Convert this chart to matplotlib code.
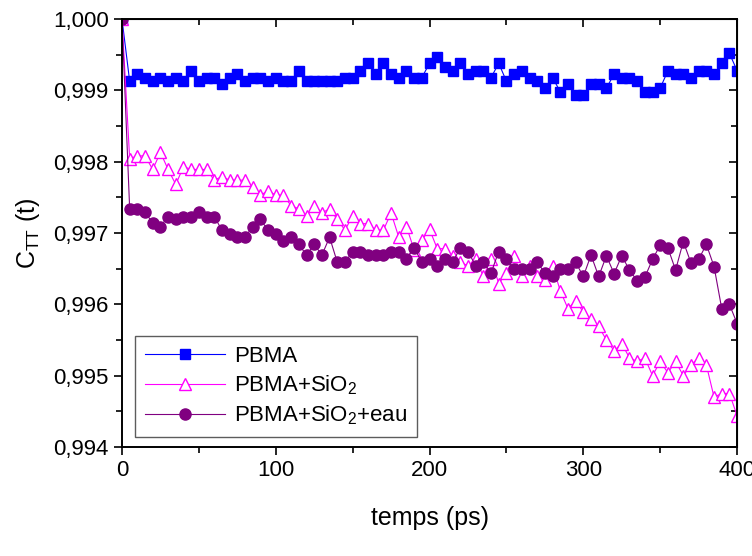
import matplotlib
matplotlib.use("Agg")
import matplotlib.pyplot as plt
from matplotlib.ticker import FuncFormatter, MultipleLocator, NullFormatter

plt.rcParams['font.family'] = ['Liberation Sans', 'DejaVu Sans']
plt.rcParams['mathtext.fontset'] = 'custom'
plt.rcParams['mathtext.rm'] = 'Liberation Sans'

# temps (ps), un point toutes les 5 ps
temps = list(range(0, 405, 5))

pbma = [1.0,
        0.999126, 0.999226, 0.999178, 0.999126, 0.999178, 0.999126, 0.999178, 0.999126, 0.999274, 0.999126,
        0.999178, 0.999178, 0.999083, 0.999178, 0.999226, 0.999126, 0.999178, 0.999178, 0.999126, 0.999178,
        0.999126, 0.999126, 0.999274, 0.999126, 0.999126, 0.999126, 0.999126, 0.999126, 0.999178, 0.999178,
        0.999274, 0.999378, 0.999226, 0.999378, 0.999226, 0.999178, 0.999274, 0.999178, 0.999178, 0.999378,
        0.999465, 0.999326, 0.999274, 0.999378, 0.999226, 0.999274, 0.999274, 0.999178, 0.999378, 0.999126,
        0.999226, 0.999274, 0.999178, 0.999126, 0.999030, 0.999178, 0.998978, 0.999083, 0.998935, 0.998935,
        0.999083, 0.999083, 0.999030, 0.999226, 0.999178, 0.999178, 0.999126, 0.998978, 0.998978, 0.999030,
        0.999274, 0.999226, 0.999226, 0.999178, 0.999274, 0.999274, 0.999226, 0.999378, 0.999517, 0.999274]

pbma_sio2 = [1.0,
             0.99804, 0.99808, 0.99808, 0.99789, 0.99813, 0.99789, 0.99768, 0.99793, 0.99789, 0.99789,
             0.99789, 0.99774, 0.99779, 0.99774, 0.99774, 0.99774, 0.99764, 0.99753, 0.99759, 0.99753,
             0.99753, 0.99738, 0.99734, 0.99724, 0.99738, 0.99728, 0.99734, 0.99719, 0.99704, 0.99724,
             0.99713, 0.99713, 0.99704, 0.99704, 0.99728, 0.99694, 0.99709, 0.99676, 0.99690, 0.99705,
             0.99678, 0.99678, 0.99668, 0.99659, 0.99654, 0.99664, 0.99639, 0.99664, 0.99629, 0.99644,
             0.99668, 0.99639, 0.99654, 0.99639, 0.99634, 0.99654, 0.99619, 0.99594, 0.99605, 0.99589,
             0.99579, 0.99569, 0.99550, 0.99535, 0.99545, 0.99525, 0.99520, 0.99525, 0.99500, 0.99520,
             0.99504, 0.99520, 0.99500, 0.99515, 0.99525, 0.99515, 0.99470, 0.99475, 0.99475, 0.99444]

pbma_sio2_eau = [1.0,
                 0.99734, 0.99734, 0.99729, 0.99714, 0.99709, 0.99723, 0.99719, 0.99723, 0.99723, 0.99729,
                 0.99723, 0.99723, 0.99704, 0.99699, 0.99694, 0.99694, 0.99709, 0.99719, 0.99704, 0.99699,
                 0.99689, 0.99694, 0.99684, 0.99669, 0.99684, 0.99669, 0.99694, 0.99659, 0.99659, 0.99674,
                 0.99674, 0.99669, 0.99669, 0.99669, 0.99674, 0.99674, 0.99664, 0.99679, 0.99659, 0.99664,
                 0.99654, 0.99664, 0.99659, 0.99679, 0.99674, 0.99654, 0.99659, 0.99644, 0.99674, 0.99664,
                 0.99649, 0.99649, 0.99649, 0.99659, 0.99644, 0.99639, 0.99649, 0.99649, 0.99659, 0.99639,
                 0.99669, 0.99639, 0.99668, 0.99643, 0.99668, 0.99648, 0.99633, 0.99638, 0.99663, 0.99683,
                 0.99679, 0.99648, 0.99688, 0.99658, 0.99663, 0.99684, 0.99653, 0.99594, 0.99600, 0.99573]

fig = plt.figure(figsize=(7.52, 5.56), dpi=100)
ax = fig.add_axes([0.1622, 0.196, 0.818, 0.770])

ax.plot(temps, pbma, color='#0000FF', lw=0.8, marker='s', ms=7, mec='#0000FF', label='PBMA')
ax.plot(temps, pbma_sio2, color='#FF00FF', lw=0.8, marker='^', ms=8, mfc='white',
        mec='#FF00FF', mew=1.0, label='PBMA+SiO$_2$')
ax.plot(temps, pbma_sio2_eau, color='#800080', lw=0.8, marker='o', ms=8, mec='#800080',
        label='PBMA+SiO$_2$+eau')

ax.set_xlim(0, 400)
ax.set_ylim(0.994, 1.000)
ax.xaxis.set_major_locator(MultipleLocator(100))
ax.xaxis.set_minor_locator(MultipleLocator(50))
ax.yaxis.set_major_locator(MultipleLocator(0.001))
ax.yaxis.set_minor_locator(MultipleLocator(0.0005))
ax.yaxis.set_major_formatter(FuncFormatter(lambda v, p: f"{v:.3f}".replace('.', ',')))

ax.tick_params(axis='both', which='both', width=1.2, labelsize=16, direction='out')
ax.tick_params(which='major', length=6)
ax.tick_params(which='minor', length=4)
for s in ax.spines.values():
    s.set_linewidth(1.4)

# ticks vers l'intérieur en haut et à droite
top = ax.secondary_xaxis('top')
top.xaxis.set_major_locator(MultipleLocator(100))
top.xaxis.set_minor_locator(MultipleLocator(50))
top.xaxis.set_major_formatter(NullFormatter())
top.tick_params(which='both', direction='in', width=1.2)
top.tick_params(which='major', length=6)
top.tick_params(which='minor', length=4)
right = ax.secondary_yaxis('right')
right.yaxis.set_major_locator(MultipleLocator(0.001))
right.yaxis.set_minor_locator(MultipleLocator(0.0005))
right.yaxis.set_major_formatter(NullFormatter())
right.tick_params(which='both', direction='in', width=1.2)
right.tick_params(which='major', length=6)
right.tick_params(which='minor', length=4)

ax.set_xlabel('temps (ps)', fontsize=18, labelpad=18)
ax.set_ylabel(r'C$_{\mathregular{TT}}$ (t)', fontsize=18, labelpad=8)

leg = ax.legend(loc='lower left', bbox_to_anchor=(0.021, 0.023), borderaxespad=0,
                fontsize=16, frameon=True, fancybox=False, handlelength=3.6,
                labelspacing=0.3, borderpad=0.45, handletextpad=0.4)
leg.get_frame().set_edgecolor('#333333')
leg.get_frame().set_linewidth(1.0)

fig.savefig('out.png', dpi=100)
